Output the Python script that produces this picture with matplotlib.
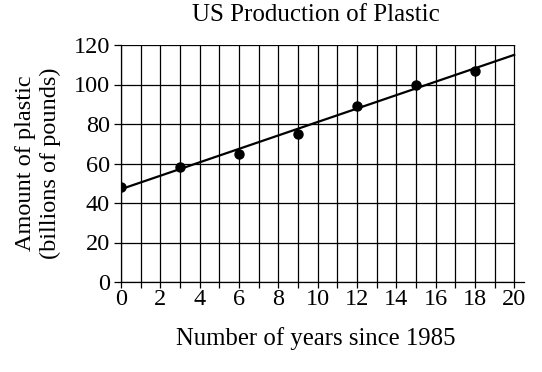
import matplotlib
matplotlib.use("Agg")
from matplotlib import pyplot as plt
import numpy as np

# Datos
years = [0, 3, 6, 9, 12, 15, 18]
plastic = [48, 58, 65, 75, 89, 100, 107]
fit_x = [0, 20]
fit_y = [47, 115]
x_ticks = list(range(0, 21, 2))
y_ticks = list(range(0, 121, 20))

plt.rcParams['font.family'] = ['Liberation Serif', 'DejaVu Serif']

fig = plt.figure(figsize=(5.42, 3.72), dpi=100)
ax = fig.add_axes([121 / 542, 1 - 282 / 372, (524 - 121) / 542, (282 - 45) / 372])

# Cuadrícula: líneas verticales cada año, horizontales cada 20
for x in range(0, 21):
    ax.plot([x, x], [0, 120], color="black", linewidth=0.9, zorder=1)
for y in y_ticks:
    ax.plot([0, 20], [y, y], color="black", linewidth=0.9, zorder=1)

ax.plot(fit_x, fit_y, color="black", linewidth=1.6, zorder=2)
ax.plot(years, plastic, "o", color="black", markersize=6.5, zorder=3)

ax.set_xlim(0, 20.5)
ax.set_ylim(0, 120)
ax.set_xticks(x_ticks)
ax.set_xticks(range(0, 21), minor=True)
ax.set_yticks(y_ticks)
ax.tick_params(axis="x", which="both", length=4, width=0.9, labelsize=17.5, pad=1)
ax.tick_params(axis="y", length=5, width=0.9, labelsize=17.5, pad=3)
for side in ["top", "right"]:
    ax.spines[side].set_visible(False)
ax.spines["left"].set_linewidth(0.9)
ax.spines["bottom"].set_linewidth(0.9)

fig.text(316 / 542, 1 - 15 / 372, "US Production of Plastic", ha="center", va="center", fontsize=18)
fig.text(316 / 542, 1 - 339 / 372, "Number of years since 1985", ha="center", va="center", fontsize=17.8)
fig.text(38 / 542, 1 - 163 / 372, "Amount of plastic\n(billions of pounds)", ha="center", va="center",
         rotation=90, fontsize=17.5, linespacing=1.2)

fig.savefig("out.png", dpi=100)
